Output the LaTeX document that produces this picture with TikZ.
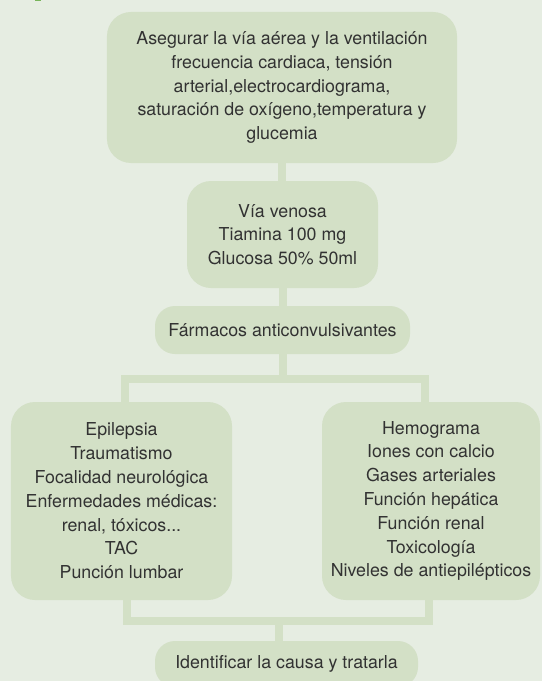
\documentclass[tikz,border=0pt]{standalone}
\usepackage{fontspec}
\setmainfont{TeX Gyre Heros}
\definecolor{bgc}{RGB}{230,237,226}
\definecolor{boxc}{RGB}{211,224,198}
\definecolor{txtc}{RGB}{50,50,50}
\definecolor{markc}{RGB}{120,180,90}
\begin{document}
\begin{tikzpicture}[x=1bp,y=-1bp,
  box/.style={rectangle, rounded corners=24bp, fill=boxc, text=txtc, align=center,
    inner sep=0pt, font=\fontsize{17.8bp}{23.8bp}\selectfont},
  conn/.style={draw=boxc, line width=8bp, line join=miter}]
\clip (0,0) rectangle (542,681);
\fill[bgc] (0,0) rectangle (542,681);
\fill[markc] (35,0) rectangle (41,1.5);
\node[box, minimum width=350bp, minimum height=151bp] (top) at (282,87.5)
  {Asegurar la vía aérea y la ventilación\\ frecuencia cardiaca, tensión\\ arterial,electrocardiograma,\\ saturación de oxígeno,temperatura y\\ glucemia};
\node[box, minimum width=191bp, minimum height=107bp] (mid) at (282.5,234.5)
  {Vía venosa\\ Tiamina 100 mg\\ Glucosa 50\% 50ml};
\node[box, rounded corners=20bp, minimum width=255bp, minimum height=48bp] (farm) at (282.5,330)
  {Fármacos anticonvulsivantes};
\node[box, minimum width=221bp, minimum height=198bp] (left) at (121.5,501)
  {Epilepsia\\ Traumatismo\\ Focalidad neurológica\\ Enfermedades médicas:\\ renal, tóxicos...\\ TAC\\ Punción lumbar};
\node[box, minimum width=218bp, minimum height=198bp] (right) at (431,501)
  {Hemograma\\ Iones con calcio\\ Gases arteriales\\ Función hepática\\ Función renal\\ Toxicología\\ Niveles de antiepilépticos};
\node[box, rounded corners=20bp, minimum width=263bp, minimum height=46bp] (bot) at (286.5,664)
  {Identificar la causa y tratarla};
\coordinate (j1) at (281.5,379);
\coordinate (j2) at (279,620.5);
\draw[conn] (top.south) -- (top.south |- mid.north);
\draw[conn] (mid.south) -- (mid.south |- farm.north);
\draw[conn] (farm.south) -- (farm.south |- j1);
\draw[conn] ([xshift=3.5bp]left.north) |- (j1) -| ([xshift=-6bp]right.north);
\draw[conn] ([xshift=5.5bp]left.south) |- (j2) -| ([xshift=-2bp]right.south);
\draw[conn] (j2) -- (j2 |- bot.north);
\end{tikzpicture}
\end{document}
